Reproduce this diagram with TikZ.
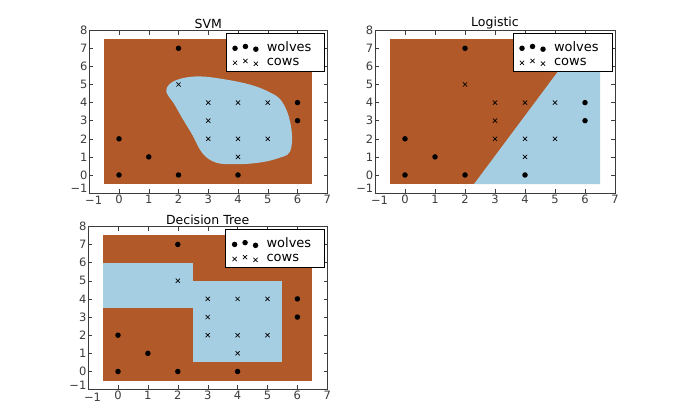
\documentclass[tikz,border=0pt]{standalone}
\usepackage{fontspec}
\setmainfont{DejaVu Sans}
\definecolor{brn}{RGB}{177,89,40}
\definecolor{lbl}{RGB}{166,206,227}
\definecolor{ax}{RGB}{60,60,60}
\tikzset{
 wolf/.style={circle,fill=black,inner sep=0pt,minimum size=5.5pt},
 cow/.style={cross out,draw=black,inner sep=0pt,minimum size=3.5pt,line width=0.7pt},
 tick/.style={font=\fontsize{11.5}{12}\selectfont,text=ax},
 ttl/.style={font=\fontsize{12.5}{13}\selectfont},
 leg/.style={draw=black,fill=white,line width=0.7pt},
}
\usetikzlibrary{shapes.misc}
\newcommand\mypoints{%
 \foreach \p in {(0,0),(0,2),(1,1),(2,0),(2,7),(4,0),(6,3),(6,4)} \node[wolf] at \p {};
 \foreach \p in {(2,5),(3,2),(3,3),(3,4),(4,1),(4,2),(4,4),(5,2),(5,4)} \node[cow] at \p {};}
\newcommand\myframe[1]{%
 \draw[ax,line width=0.7pt] (-1,-1) rectangle (7,8);
 \foreach \i in {0,...,6} {\draw[ax] (\i,-1) -- ++(0,0.25); \draw[ax] (\i,8) -- ++(0,-0.25);}
 \foreach \i in {0,...,7} {\draw[ax] (-1,\i) -- ++(0.12,0); \draw[ax] (7,\i) -- ++(-0.12,0);}
 \foreach \i/\l in {0/0,1/1,2/2,3/3,4/4,5/5,6/6,7/7} \node[tick,below,inner sep=1.5pt] at (\i,-1) {\l};
 \node[tick,below,inner sep=1.5pt] at (-0.85,-1.1) {−1};
 \foreach \i/\l in {0/0,1/1,2/2,3/3,4/4,5/5,6/6,7/7,8/8} \node[tick,left,inner sep=1.5pt] at (-1,\i) {\l};
 \node[tick,left,inner sep=1.5pt] at (-1,-0.75) {−1};
 \node[ttl,above,inner sep=1pt] at (3,8) {#1};
 \draw[leg] (3.6,5.75) rectangle (6.9,7.85);
 \node[wolf] at (3.9,7.0) {}; \node[wolf] at (4.25,7.1) {}; \node[wolf] at (4.6,6.95) {};
 \node[cow] at (3.9,6.2) {}; \node[cow] at (4.25,6.3) {}; \node[cow] at (4.6,6.15) {};
 \node[anchor=west,font=\fontsize{13}{13}\selectfont] at (4.85,7.1) {wolves};
 \node[anchor=west,font=\fontsize{13}{13}\selectfont] at (4.85,6.25) {cows};}
\begin{document}
\begin{tikzpicture}[x=1pt,y=1pt]
\useasboundingbox[fill=white] (0,0) rectangle (693,409);
\begin{scope}[shift={(119,234)},x=29.75pt,y=18.1pt]
 \fill[brn] (-0.5,-0.5) rectangle (6.5,7.5);
 \fill[lbl] plot[smooth cycle,tension=0.7] coordinates {(1.6,4.8)(2.3,5.4)(3.5,5.3)(4.9,4.7)(5.6,3.7)(5.8,1.6)(5.3,0.9)(4,0.6)(3,0.9)(2.4,2.4)(1.9,3.8)};
 \mypoints
 \myframe{SVM}
\end{scope}
\begin{scope}[shift={(405,234)},x=30pt,y=18.1pt]
 \fill[brn] (-0.5,-0.5) rectangle (6.5,7.5);
 \fill[lbl] (2.3,-0.5) -- (6.5,-0.5) -- (6.5,7.5) -- (5.9,7.5) -- cycle;
 \mypoints
 \myframe{Logistic}
\end{scope}
\begin{scope}[shift={(118,37.5)},x=29.9pt,y=18.15pt]
 \fill[brn] (-0.5,-0.5) rectangle (6.5,7.5);
 \fill[lbl] (-0.5,3.5) rectangle (2.5,6);
 \fill[lbl] (2.5,0.5) rectangle (5.5,5);
 \mypoints
 \myframe{Decision Tree}
\end{scope}
\end{tikzpicture}
\end{document}
